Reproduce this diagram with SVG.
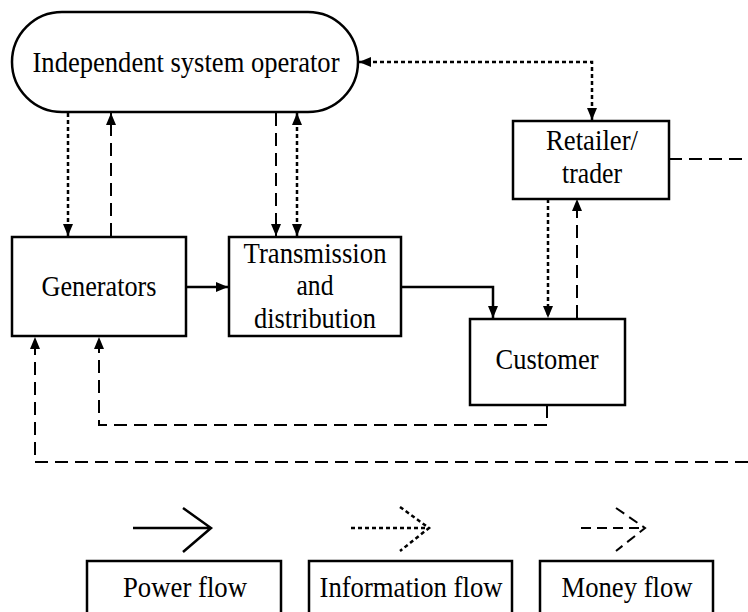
<svg xmlns="http://www.w3.org/2000/svg" width="748" height="612" viewBox="0 0 748 612">
<style>
  .box{fill:#fff;stroke:#000;stroke-width:2.5}
  .t{font-family:"Liberation Serif","Times New Roman",serif;font-size:29px;fill:#000;text-anchor:middle}
  .pw{fill:none;stroke:#000;stroke-width:2.5}
  .inf{fill:none;stroke:#000;stroke-width:2.5;stroke-dasharray:4 3}
  .mon{fill:none;stroke:#000;stroke-width:2;stroke-dasharray:13 7}
</style>
<defs>
  <marker id="ah" viewBox="0 0 12 10" refX="12" refY="5" markerWidth="13" markerHeight="10" markerUnits="userSpaceOnUse" orient="auto-start-reverse">
    <path d="M0,0 L12,5 L0,10 z" fill="#000"/>
  </marker>
</defs>
<rect width="748" height="612" fill="#fff"/>
<g id="connectors">
  <path class="inf" d="M68,113 V236" marker-end="url(#ah)"/>
  <path class="mon" d="M111,236 V113" marker-end="url(#ah)"/>
  <path class="mon" d="M276,113 V236" marker-end="url(#ah)"/>
  <path class="inf" d="M297,113 V236" marker-start="url(#ah)" marker-end="url(#ah)"/>
  <path class="inf" d="M592,120 V62 H359" marker-start="url(#ah)" marker-end="url(#ah)"/>
  <path class="inf" d="M548,199 V318" marker-end="url(#ah)"/>
  <path class="mon" d="M577,318 V199" marker-end="url(#ah)"/>
  <path class="pw" d="M186,287 H228" marker-end="url(#ah)"/>
  <path class="pw" d="M401,287 H493 V318" marker-end="url(#ah)"/>
  <path class="mon" d="M547,405 V425 H99 V337" marker-end="url(#ah)"/>
  <path class="mon" d="M669,159 H748"/>
  <path class="mon" d="M748,462 H35 V337" marker-end="url(#ah)"/>
</g>
<g id="iso">
  <rect class="box" x="12" y="12" width="346" height="100" rx="50" ry="50"/>
  <text class="t" x="186" y="72" textLength="307" lengthAdjust="spacingAndGlyphs">Independent system operator</text>
</g>
<g id="retailer">
  <rect class="box" x="513" y="121" width="156" height="78"/>
  <text class="t" x="592" y="150" textLength="92" lengthAdjust="spacingAndGlyphs">Retailer/</text>
  <text class="t" x="592" y="183" textLength="60" lengthAdjust="spacingAndGlyphs">trader</text>
</g>
<g id="generators">
  <rect class="box" x="12" y="237" width="174" height="99"/>
  <text class="t" x="99" y="296" textLength="115" lengthAdjust="spacingAndGlyphs">Generators</text>
</g>
<g id="transmission">
  <rect class="box" x="229" y="237" width="172" height="99"/>
  <text class="t" x="315" y="263" textLength="143" lengthAdjust="spacingAndGlyphs">Transmission</text>
  <text class="t" x="315" y="295" textLength="37" lengthAdjust="spacingAndGlyphs">and</text>
  <text class="t" x="315" y="328" textLength="122" lengthAdjust="spacingAndGlyphs">distribution</text>
</g>
<g id="customer">
  <rect class="box" x="470" y="319" width="155" height="86"/>
  <text class="t" x="547" y="369" textLength="103" lengthAdjust="spacingAndGlyphs">Customer</text>
</g>
<g id="legend">
  <path class="pw" d="M133,528 H211 M183,508 L211,528 L183,552"/>
  <path class="inf" d="M351,528 H429 M400,507 L429,528 L400,551"/>
  <path class="mon" d="M581,528 H645" style="stroke-dasharray:10 6"/>
  <path class="mon" d="M616,508 L645,528 L616,551" style="stroke-dasharray:10 6"/>
  <rect class="box" x="87" y="561" width="194" height="60"/>
  <text class="t" x="185" y="597" textLength="124" lengthAdjust="spacingAndGlyphs">Power flow</text>
  <rect class="box" x="309" y="561" width="203" height="60"/>
  <text class="t" x="411" y="597" textLength="183" lengthAdjust="spacingAndGlyphs">Information flow</text>
  <rect class="box" x="540" y="561" width="173" height="60"/>
  <text class="t" x="627" y="597" textLength="131" lengthAdjust="spacingAndGlyphs">Money flow</text>
</g>
</svg>
